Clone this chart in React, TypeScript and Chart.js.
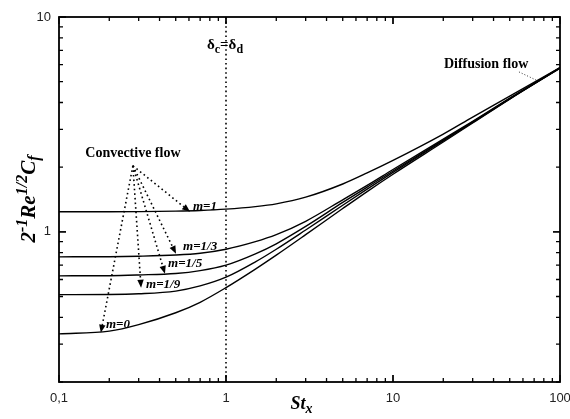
import React, { useEffect, useRef } from "react";
import { Chart, registerables } from "chart.js";

Chart.register(...registerables);

const stX = [0.1, 0.2, 0.3, 0.5, 0.7, 1, 1.5, 2, 3, 5, 7, 10, 20, 30, 50, 100];
const mOne = [1.24, 1.24, 1.242, 1.248, 1.257, 1.275, 1.31, 1.35, 1.45, 1.67, 1.88, 2.15, 2.85, 3.42, 4.28, 5.82];
const mThird = [0.765, 0.766, 0.77, 0.78, 0.795, 0.83, 0.9, 0.97, 1.12, 1.41, 1.645, 1.95, 2.7, 3.27, 4.19, 5.81];
const mFifth = [0.624, 0.625, 0.63, 0.64, 0.66, 0.7, 0.79, 0.88, 1.06, 1.37, 1.615, 1.92, 2.67, 3.25, 4.17, 5.8];
const mNinth = [0.51, 0.511, 0.515, 0.53, 0.56, 0.615, 0.725, 0.83, 1.02, 1.33, 1.58, 1.89, 2.65, 3.23, 4.16, 5.79];
const mZero = [0.335, 0.345, 0.37, 0.42, 0.47, 0.55, 0.671, 0.779, 0.97, 1.284, 1.54, 1.854, 2.62, 3.21, 4.15, 5.78];

const xTickLabels = ["0,1", "1", "10", "100"];
const xTickValues = [0.1, 1, 10, 100];
const yTickLabels = ["1", "10"];
const yTickValues = [1, 10];

const curveLabels = ["m=1", "m=1/3", "m=1/5", "m=1/9", "m=0"];
// label anchor (left, middle) in data coords
const labelX = [0.634, 0.553, 0.45, 0.332, 0.191];
const labelY = [1.31, 0.852, 0.71, 0.567, 0.369];
// arrow tips in data coords
const tipX = [0.609, 0.502, 0.431, 0.31, 0.178];
const tipY = [1.24, 0.79, 0.638, 0.549, 0.339];
const arrowOrigin = { x: 0.277, y: 2.03 };
const convectiveText = { x: 0.277, y: 2.33, text: "Convective flow" };
const diffusionText = { x: 36.1, y: 6.04, text: "Diffusion flow" };
const diffusionLeader = [{ x: 56.8, y: 5.55 }, { x: 73.8, y: 5.04 }];
const deltaLabel = { x: 1, y: 7.41 };

type Part = { t: string; f: string; dy: number };

function drawParts(ctx: CanvasRenderingContext2D, parts: Part[], cx: number, cy: number) {
  let total = 0;
  const widths = parts.map((p) => {
    ctx.font = p.f;
    const w = ctx.measureText(p.t).width;
    total += w;
    return w;
  });
  let x = cx - total / 2;
  ctx.textAlign = "left";
  ctx.textBaseline = "alphabetic";
  parts.forEach((p, i) => {
    ctx.font = p.f;
    ctx.fillText(p.t, x, cy + p.dy);
    x += widths[i];
  });
}

const annotPlugin = {
  id: "annot",
  afterDraw(chart: any) {
    const ctx: CanvasRenderingContext2D = chart.ctx;
    const xs = chart.scales.x;
    const ys = chart.scales.y;
    const { left, right, top, bottom } = chart.chartArea;
    const px = (v: number) => xs.getPixelForValue(v);
    const py = (v: number) => ys.getPixelForValue(v);
    ctx.save();
    ctx.strokeStyle = "#000";
    ctx.fillStyle = "#000";

    // frame
    ctx.lineWidth = 1.8;
    ctx.setLineDash([]);
    ctx.strokeRect(left, top, right - left, bottom - top);

    // ticks
    ctx.lineWidth = 1.3;
    for (let e = -1; e <= 1; e++) {
      for (let k = 1; k <= 10; k++) {
        const v = k * Math.pow(10, e);
        if (v < 0.1 || v > 100) continue;
        const major = k === 1 || k === 10;
        const len = major ? 7 : 4;
        const x = px(v);
        ctx.beginPath();
        ctx.moveTo(x, bottom);
        ctx.lineTo(x, bottom - len);
        ctx.moveTo(x, top);
        ctx.lineTo(x, top + len);
        ctx.stroke();
      }
    }
    for (let e = -1; e <= 0; e++) {
      for (let k = 1; k <= 10; k++) {
        const v = k * Math.pow(10, e);
        if (v < 0.2 - 1e-9 || v > 10) continue;
        const major = k === 1 || k === 10;
        const len = major ? 7 : 4;
        const y = py(v);
        ctx.beginPath();
        ctx.moveTo(left, y);
        ctx.lineTo(left + len, y);
        ctx.moveTo(right, y);
        ctx.lineTo(right - len, y);
        ctx.stroke();
      }
    }

    // tick labels
    ctx.font = "13px 'Liberation Sans', Arial, sans-serif";
    ctx.fillStyle = "#222";
    ctx.textAlign = "center";
    ctx.textBaseline = "middle";
    xTickValues.forEach((v, i) => ctx.fillText(xTickLabels[i], px(v), bottom + 16));
    ctx.textAlign = "right";
    yTickValues.forEach((v, i) => ctx.fillText(yTickLabels[i], left - 8, py(v)));

    ctx.fillStyle = "#000";
    // x title
    drawParts(
      ctx,
      [
        { t: "St", f: "bold italic 18px 'Liberation Serif', serif", dy: 0 },
        { t: "x", f: "bold italic 14px 'Liberation Serif', serif", dy: 4 },
      ],
      (left + right) / 2 - 8,
      409
    );

    // y title
    ctx.save();
    ctx.translate(35, 199);
    ctx.rotate(-Math.PI / 2);
    const mf = "bold italic 21px 'Liberation Serif', serif";
    const sf = "bold italic 16px 'Liberation Serif', serif";
    drawParts(
      ctx,
      [
        { t: "2", f: mf, dy: 0 },
        { t: "-1", f: sf, dy: -8 },
        { t: "Re", f: mf, dy: 0 },
        { t: "1/2", f: sf, dy: -8 },
        { t: "C", f: mf, dy: 0 },
        { t: "f", f: sf, dy: 4 },
      ],
      0,
      0
    );
    ctx.restore();

    // delta label
    drawParts(
      ctx,
      [
        { t: "δ", f: "bold 15px 'Liberation Serif', serif", dy: 0 },
        { t: "c", f: "bold 12px 'Liberation Serif', serif", dy: 4 },
        { t: "=", f: "bold 15px 'Liberation Serif', serif", dy: 0 },
        { t: "δ", f: "bold 15px 'Liberation Serif', serif", dy: 0 },
        { t: "d", f: "bold 12px 'Liberation Serif', serif", dy: 4 },
      ],
      px(deltaLabel.x) - 1,
      py(deltaLabel.y) + 4
    );

    // text annotations
    ctx.font = "bold 14px 'Liberation Serif', serif";
    ctx.textAlign = "center";
    ctx.textBaseline = "middle";
    ctx.fillText(convectiveText.text, px(convectiveText.x), py(convectiveText.y));
    ctx.fillText(diffusionText.text, px(diffusionText.x), py(diffusionText.y));

    // diffusion leader
    ctx.lineWidth = 0.8;
    ctx.setLineDash([1, 2]);
    ctx.beginPath();
    ctx.moveTo(px(diffusionLeader[0].x), py(diffusionLeader[0].y));
    ctx.lineTo(px(diffusionLeader[1].x), py(diffusionLeader[1].y));
    ctx.stroke();

    // arrows
    const ox = px(arrowOrigin.x);
    const oy = py(arrowOrigin.y);
    tipX.forEach((tx, i) => {
      const x2 = px(tx);
      const y2 = py(tipY[i]);
      const ang = Math.atan2(y2 - oy, x2 - ox);
      const L = 8;
      const W = 3.2;
      const bx = x2 - L * Math.cos(ang);
      const by = y2 - L * Math.sin(ang);
      ctx.lineWidth = 1.6;
      ctx.setLineDash([1.6, 3]);
      ctx.beginPath();
      ctx.moveTo(ox, oy);
      ctx.lineTo(bx, by);
      ctx.stroke();
      ctx.setLineDash([]);
      ctx.beginPath();
      ctx.moveTo(x2, y2);
      ctx.lineTo(bx + W * Math.sin(ang), by - W * Math.cos(ang));
      ctx.lineTo(bx - W * Math.sin(ang), by + W * Math.cos(ang));
      ctx.closePath();
      ctx.fill();
    });

    // curve labels
    ctx.font = "bold italic 13px 'Liberation Serif', serif";
    ctx.textAlign = "left";
    ctx.textBaseline = "middle";
    curveLabels.forEach((t, i) => ctx.fillText(t, px(labelX[i]), py(labelY[i])));

    ctx.restore();
  },
};

export default function App() {
  const ref = useRef<HTMLCanvasElement>(null);
  useEffect(() => {
    if (!ref.current) return;
    const series = [mOne, mThird, mFifth, mNinth, mZero];
    const datasets: any[] = series.map((s, i) => ({
      label: curveLabels[i],
      data: stX.map((x, j) => ({ x, y: s[j] })),
      borderColor: "#000",
      borderWidth: 1.4,
      pointRadius: 0,
      fill: false,
      cubicInterpolationMode: "monotone",
    }));
    datasets.push({
      label: "δc=δd",
      data: [
        { x: 1, y: 0.2 },
        { x: 1, y: 10 },
      ],
      borderColor: "#000",
      borderWidth: 1.6,
      borderDash: [1.6, 3],
      pointRadius: 0,
      fill: false,
    });
    const chart = new Chart(ref.current, {
      type: "line",
      data: { datasets },
      options: {
        responsive: false,
        animation: false,
        devicePixelRatio: 1,
        layout: { padding: { left: 59, right: 10, top: 17, bottom: 37 } },
        plugins: { legend: { display: false }, tooltip: { enabled: false } },
        scales: {
          x: { type: "logarithmic", min: 0.1, max: 100, display: false },
          y: { type: "logarithmic", min: 0.2, max: 10, display: false },
        },
      },
      plugins: [annotPlugin],
    });
    return () => chart.destroy();
  }, []);
  return (
    <div style={{ position: "fixed", left: 0, top: 0, width: 570, height: 419, background: "#fff" }}>
      <canvas ref={ref} width={570} height={419} />
    </div>
  );
}
